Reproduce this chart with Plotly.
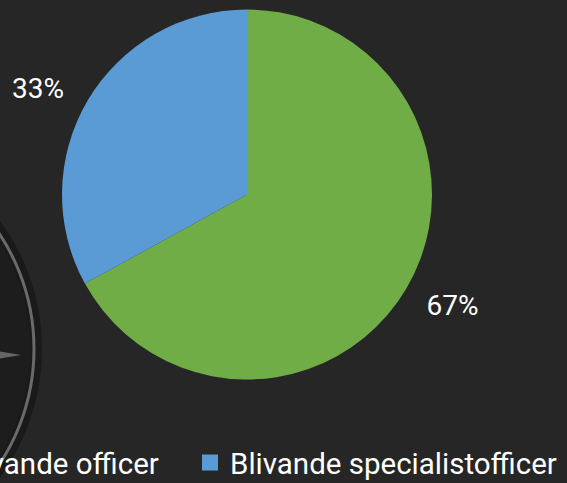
import plotly.graph_objects as go

labels = ["Blivande officer", "Blivande specialistofficer"]
values = [67, 33]
colors = ["#70AD47", "#5B9BD5"]

W, H = 567, 483
BG = "#262626"
FONT = "Roboto"
LABEL_SIZE = 28

# label text: the value itself is %{percent}; the extra blank line / spaces just
# push the outside labels a bit further from the rim, like the original
big = f"<span style='font-size:{LABEL_SIZE}px'>"
label_templates = [
    "\u00a0<br>" + big + "\u00a0%{percent:.0%}</span>",
    big + "%{percent:.0%}\u00a0\u2009</span><br>\u00a0",
]
label_base_sizes = [21, 12]

def px(x):
    return x / W

def py(y):
    return 1 - y / H

fig = go.Figure()
fig.add_trace(go.Pie(
    labels=labels,
    values=values,
    marker=dict(colors=colors, line=dict(width=0)),
    sort=False,
    direction="clockwise",
    rotation=0,
    texttemplate=label_templates,
    textposition="outside",
    textfont=dict(color="white", size=label_base_sizes, family=FONT),
    domain=dict(x=[px(62), px(432)], y=[py(380), py(9)]),
    automargin=False,
    showlegend=False,
    hoverinfo="label+percent",
))

# legend entries (one legend per category so they can sit in a single row)
legend_ids = ["legend", "legend2"]
for lab, col, lid in zip(labels, colors, legend_ids):
    fig.add_trace(go.Scatter(
        x=[None], y=[None], mode="markers", name=lab,
        marker=dict(symbol="square", size=16, color=col),
        legend=lid, hoverinfo="skip", showlegend=True,
    ))

# decorative compass in the background
cx, cy = -175, 349
def circ(r, **kw):
    return dict(type="circle", xref="paper", yref="paper", layer="below",
                x0=px(cx - r), x1=px(cx + r), y0=py(cy + r), y1=py(cy - r), **kw)

shapes = [
    circ(217, fillcolor="#1a1a1a", line=dict(width=0)),
    circ(205, fillcolor="#1d1d1d", line=dict(width=0)),
    circ(209, fillcolor="rgba(0,0,0,0)", line=dict(color="#6a6a6a", width=3)),
    dict(type="path", xref="paper", yref="paper", layer="below",
         path=f"M {px(-40)},{py(345)} L {px(21)},{py(355)} L {px(-40)},{py(365)} Z",
         fillcolor="#666666", line=dict(width=0)),
]

legend_style = dict(orientation="h", yanchor="bottom", y=-0.012, xanchor="left",
                    font=dict(color="white", size=29.5, family=FONT),
                    bgcolor="rgba(0,0,0,0)", borderwidth=0)

fig.update_layout(
    width=W, height=H,
    paper_bgcolor=BG, plot_bgcolor=BG,
    margin=dict(l=0, r=0, t=0, b=0, autoexpand=False),
    shapes=shapes,
    xaxis=dict(visible=False),
    yaxis=dict(visible=False),
    legend=dict(legend_style, x=px(-83)),
    legend2=dict(legend_style, x=px(190)),
    font=dict(family=FONT, color="white"),
)

fig.write_html(
    "out.html",
    config={"displayModeBar": False},
    post_script="document.body.style.margin='0';document.body.style.background='#262626';",
)
